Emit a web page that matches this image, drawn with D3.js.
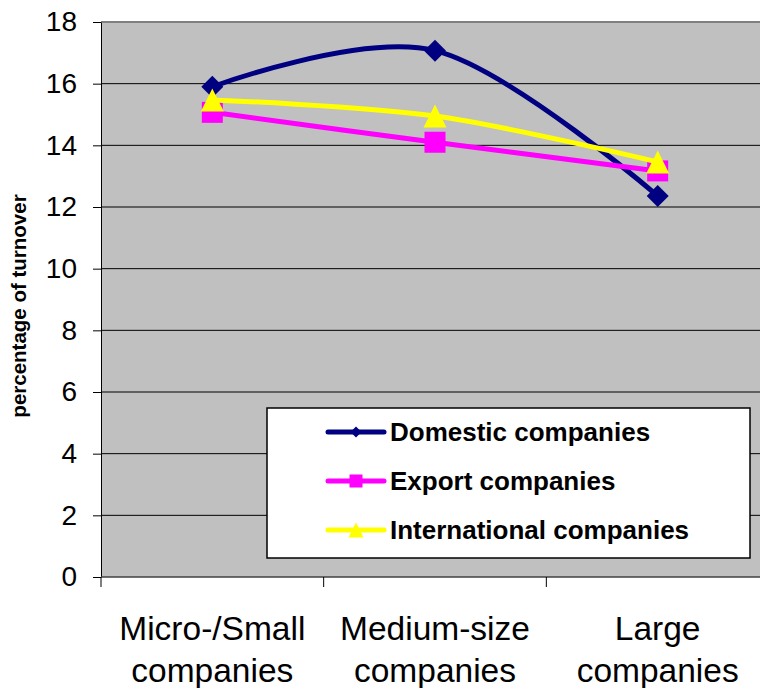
<!DOCTYPE html>
<html>
<head>
<meta charset="utf-8">
<script src="https://cdn.jsdelivr.net/npm/d3@7"></script>
<style>
  html, body { margin: 0; padding: 0; background: #fff; }
  svg { display: block; font-family: "Liberation Sans", Arial, sans-serif; }
</style>
</head>
<body>
<svg id="chart" width="760" height="688"></svg>
<script>
// Company size classes along the x axis (each label split over two lines)
const categories = ["Micro-/Small companies", "Medium-size companies", "Large companies"];
const categoryLines = [["Micro-/Small", "companies"], ["Medium-size", "companies"], ["Large", "companies"]];

// Series values, percentage of turnover
const seriesNames = ["Domestic companies", "Export companies", "International companies"];
const domestic = [15.9, 17.07, 12.36];
const exportCo = [15.07, 14.1, 13.17];
const international = [15.47, 14.95, 13.46];

// Y axis ticks
const yTicks = [0, 2, 4, 6, 8, 10, 12, 14, 16, 18];

const seriesValues = [domestic, exportCo, international];
const seriesColors = ["#000080", "#FF00FF", "#FFFF00"];

// Custom marker shapes
const diamondType = {
  draw(ctx, size) {
    const r = Math.sqrt(size / 2);
    ctx.moveTo(0, -r); ctx.lineTo(r, 0); ctx.lineTo(0, r); ctx.lineTo(-r, 0); ctx.closePath();
  }
};
const triangleType = {
  draw(ctx, size) {
    const s = Math.sqrt(size);
    ctx.moveTo(0, -s / 2); ctx.lineTo(s / 2, s / 2); ctx.lineTo(-s / 2, s / 2); ctx.closePath();
  }
};
const markerTypes = [diamondType, d3.symbolSquare, triangleType];
const markerSizes = [242, 441, 529];
const legendMarkerSizes = [60, 169, 225];

const svg = d3.select("#chart");
const plot = { left: 101, right: 769, top: 22, bottom: 577 };

const x = d3.scaleBand().domain(categories).range([plot.left, plot.right]).padding(0);
const y = d3.scaleLinear().domain([0, 18]).range([plot.bottom, plot.top]);

// Plot background
svg.append("rect")
  .attr("x", plot.left).attr("y", plot.top)
  .attr("width", plot.right - plot.left).attr("height", plot.bottom - plot.top)
  .attr("fill", "#C0C0C0");

// Horizontal gridlines
svg.append("g")
  .selectAll("line")
  .data(yTicks.filter(t => t > 0 && t < 18))
  .join("line")
  .attr("x1", plot.left).attr("x2", plot.right)
  .attr("y1", d => y(d)).attr("y2", d => y(d))
  .attr("stroke", "#000").attr("stroke-width", 1);

// Top border of plot area
svg.append("line")
  .attr("x1", plot.left).attr("x2", plot.right)
  .attr("y1", y(18)).attr("y2", y(18))
  .attr("stroke", "#808080").attr("stroke-width", 2);

// Y axis
const yAxis = svg.append("g")
  .attr("transform", `translate(${plot.left},0)`)
  .call(d3.axisLeft(y).tickValues(yTicks).tickSize(8).tickPadding(16).tickSizeOuter(0));
yAxis.select(".domain").attr("stroke", "#000").attr("stroke-width", 1);
yAxis.selectAll(".tick line").attr("stroke", "#000");
yAxis.selectAll(".tick text")
  .attr("font-size", 28).attr("fill", "#000")
  .attr("font-family", "'Liberation Sans', Arial, sans-serif");

// X axis baseline and category boundary ticks
svg.append("line")
  .attr("x1", plot.left).attr("x2", plot.right)
  .attr("y1", plot.bottom).attr("y2", plot.bottom)
  .attr("stroke", "#404040").attr("stroke-width", 1.5);
svg.append("g")
  .selectAll("line")
  .data(categories)
  .join("line")
  .attr("x1", d => x(d)).attr("x2", d => x(d))
  .attr("y1", plot.bottom).attr("y2", plot.bottom + 10)
  .attr("stroke", "#000").attr("stroke-width", 1);

// Category labels
const catLabels = svg.append("g")
  .selectAll("text")
  .data(categories)
  .join("text")
  .attr("text-anchor", "middle")
  .attr("font-size", 33.5)
  .attr("fill", "#000");
catLabels.each(function(d, i) {
  const t = d3.select(this);
  categoryLines[i].forEach((line, j) => {
    t.append("tspan")
      .attr("x", x(d) + x.bandwidth() / 2)
      .attr("y", 640 + j * 42)
      .text(line);
  });
});

// Y axis title
svg.append("text")
  .attr("transform", "translate(26,306) rotate(-90)")
  .attr("text-anchor", "middle")
  .attr("font-size", 20.5)
  .attr("font-weight", "bold")
  .attr("fill", "#000")
  .text("percentage of turnover");

// Series lines and markers (Excel-like smoothing)
const line = d3.line()
  .x((d, i) => x(categories[i]) + x.bandwidth() / 2)
  .y(d => y(d))
  .curve(d3.curveCardinal.tension(0));

seriesValues.forEach((vals, s) => {
  const g = svg.append("g");
  g.append("path")
    .attr("d", line(vals))
    .attr("fill", "none")
    .attr("stroke", seriesColors[s])
    .attr("stroke-width", 5)
    .attr("stroke-linejoin", "round");
  g.selectAll("path.marker")
    .data(vals)
    .join("path")
    .attr("class", "marker")
    .attr("transform", (d, i) => `translate(${x(categories[i]) + x.bandwidth() / 2},${y(d)})`)
    .attr("d", d3.symbol().type(markerTypes[s]).size(markerSizes[s]))
    .attr("fill", seriesColors[s]);
});

// Legend
const legend = svg.append("g");
legend.append("rect")
  .attr("x", 267).attr("y", 408)
  .attr("width", 483).attr("height", 150)
  .attr("fill", "#fff").attr("stroke", "#000").attr("stroke-width", 1.5);
seriesNames.forEach((name, s) => {
  const cy = 432 + s * 49;
  legend.append("line")
    .attr("x1", 328).attr("x2", 384).attr("y1", cy).attr("y2", cy)
    .attr("stroke", seriesColors[s]).attr("stroke-width", 5).attr("stroke-linecap", "round");
  legend.append("path")
    .attr("transform", `translate(356,${cy})`)
    .attr("d", d3.symbol().type(markerTypes[s]).size(legendMarkerSizes[s]))
    .attr("fill", seriesColors[s]);
  legend.append("text")
    .attr("x", 390).attr("y", cy + 9)
    .attr("font-size", 26)
    .attr("font-weight", "bold")
    .attr("fill", "#000")
    .text(name);
});
</script>
</body>
</html>
